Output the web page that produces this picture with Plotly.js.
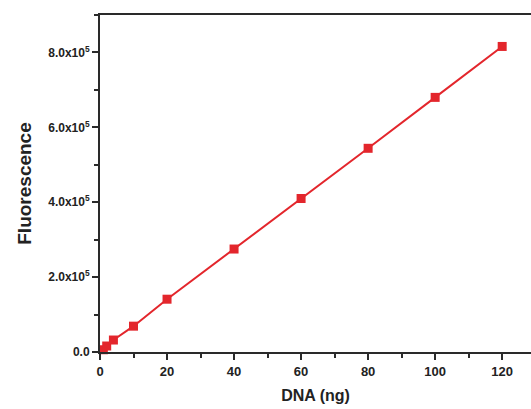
<!DOCTYPE html>
<html>
<head>
<meta charset="utf-8">
<script src="https://cdn.plot.ly/plotly-3.0.1.min.js"></script>
<style>html,body{margin:0;padding:0;background:#fff;}#chart{width:531px;height:409px;}</style>
</head>
<body>
<div id="chart"></div>
<script>
const dnaNg = [1, 2, 4, 10, 20, 40, 60, 80, 100, 120];
const fluorescence = [6000, 16000, 32000, 69000, 141000, 275000, 410000, 544000, 680000, 816000];
const yTickVals = [0, 200000, 400000, 600000, 800000];
const yTickText = ['0.0', '2.0x10<sup>5</sup>', '4.0x10<sup>5</sup>', '6.0x10<sup>5</sup>', '8.0x10<sup>5</sup>'];
const xTickVals = [0, 20, 40, 60, 80, 100, 120];

const trace = {
  x: dnaNg, y: fluorescence, type: 'scatter', mode: 'lines+markers',
  line: {color: '#e3262c', width: 2},
  marker: {symbol: 'square', size: 9, color: '#e3262c'},
  cliponaxis: false
};
const fontFam = 'Liberation Sans, Arial, sans-serif';
const layout = {
  width: 531, height: 409,
  margin: {l: 100, r: 0, t: 15, b: 57},
  paper_bgcolor: '#fff', plot_bgcolor: '#fff',
  showlegend: false,
  font: {family: fontFam, color: '#222'},
  xaxis: {
    range: [0, 128.6], showgrid: false, zeroline: false,
    showline: true, linecolor: '#2a2a2a', linewidth: 2, mirror: true,
    ticks: 'outside', ticklen: 6, tickwidth: 2, tickcolor: '#2a2a2a',
    tickvals: xTickVals,
    tickfont: {size: 13, family: fontFam, weight: 'bold', color: '#222'},
    minor: {dtick: 10, tick0: 0, ticks: 'outside', ticklen: 4, tickwidth: 2, tickcolor: '#2a2a2a'},
    title: {text: 'DNA (ng)', font: {size: 16, family: fontFam, weight: 'bold', color: '#222'}, standoff: 12}
  },
  yaxis: {
    range: [0, 900000], showgrid: false, zeroline: false,
    showline: true, linecolor: '#2a2a2a', linewidth: 2,
    ticks: 'outside', ticklen: 6, tickwidth: 2, tickcolor: '#2a2a2a',
    tickvals: yTickVals, ticktext: yTickText,
    tickfont: {size: 12, family: fontFam, weight: 'bold', color: '#222'},
    minor: {dtick: 100000, tick0: 0, ticks: 'outside', ticklen: 4, tickwidth: 2, tickcolor: '#2a2a2a'},
    title: {text: 'Fluorescence', font: {size: 19, family: fontFam, weight: 'bold', color: '#222'}, standoff: 12}
  }
};
Plotly.newPlot('chart', [trace], layout, {displayModeBar: false, staticPlot: true});
</script>
</body>
</html>
